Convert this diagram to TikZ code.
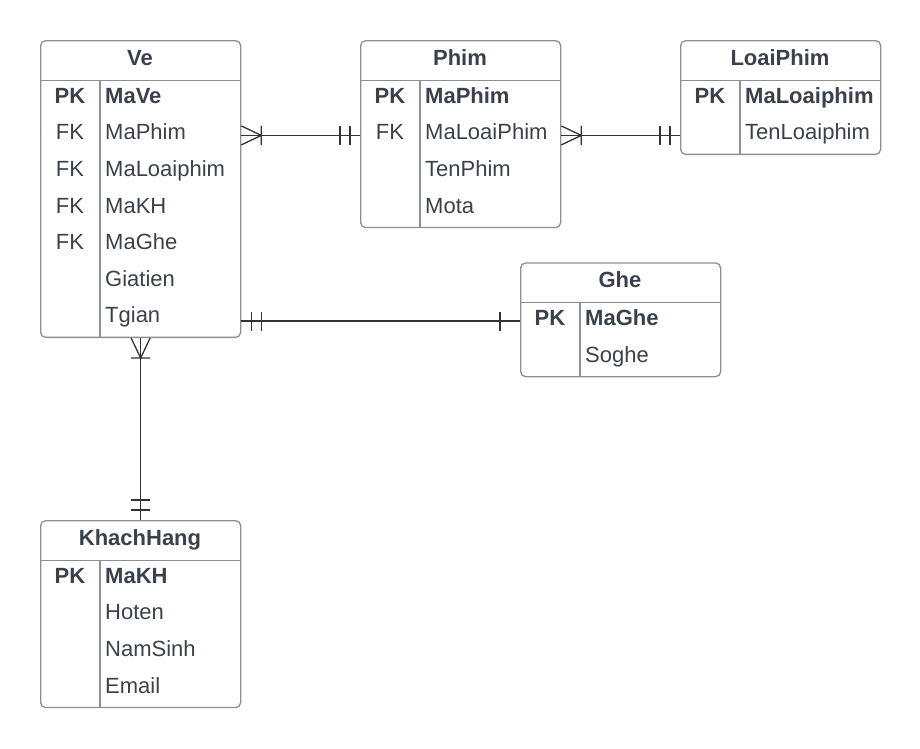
\documentclass[tikz,border=0pt]{standalone}
\usepackage{fontspec}
\setmainfont{Liberation Sans}
\begin{document}
\begin{tikzpicture}[x=1pt, y=-1pt, font=\fontsize{22}{26}\selectfont,
    tbl/.style={draw=edgegray, line width=1.3pt, rounded corners=5pt, anchor=north west, minimum width=200pt, inner sep=0pt},
    sep/.style={draw=edgegray, line width=1.3pt},
    hdr/.style={text=inkgray, inner sep=0pt, anchor=mid},
    key/.style={text=inkgray, inner sep=0pt, anchor=mid},
    fld/.style={text=inkgray, inner sep=0pt, anchor=mid west},
    rel/.style={draw=linkgray, line width=1.3pt},
    pics/crowmany/.style={code={\draw[rel] (0,-9.5) -- (20,0) -- (0,9.5) (20,-9.5) -- (20,9.5);}},
    pics/barbar/.style={code={\draw[rel] (10,-9.5) -- (10,9.5) (20,-9.5) -- (20,9.5);}},
    pics/barone/.style={code={\draw[rel] (20,-9.5) -- (20,9.5);}}]
  \definecolor{inkgray}{RGB}{58,65,74}
  \definecolor{edgegray}{RGB}{140,143,148}
  \definecolor{linkgray}{RGB}{51,51,51}
  \useasboundingbox (0,0) rectangle (920,748);

  % bang Ve
  \begin{scope}[shift={(40,40)}]
    \node[tbl, minimum height=296.7pt] (ve) at (0,0) {};
    \node[hdr] (ve-h) at (100,22.5) {\textbf{Ve}};
    \draw[sep] (0,40.5) -- (200,40.5) (60,40.5) -- (60,296.7);
    \foreach \k/\f [count=\i] in {\textbf{PK}/\textbf{MaVe}, FK/MaPhim, FK/MaLoaiphim, FK/MaKH, FK/MaGhe, /Giatien, /Tgian} {
      \node[key] (ve-k\i) at (30,24+36.6*\i) {\k};
      \node[fld] (ve-f\i) at (65,24+36.6*\i) {\f};
    }
  \end{scope}

  % bang Phim
  \begin{scope}[shift={(360,40)}]
    \node[tbl, minimum height=186.9pt] (phim) at (0,0) {};
    \node[hdr] (phim-h) at (100,22.5) {\textbf{Phim}};
    \draw[sep] (0,40.5) -- (200,40.5) (60,40.5) -- (60,186.9);
    \foreach \k/\f [count=\i] in {\textbf{PK}/\textbf{MaPhim}, FK/MaLoaiPhim, /TenPhim, /Mota} {
      \node[key] (phim-k\i) at (30,24+36.6*\i) {\k};
      \node[fld] (phim-f\i) at (65,24+36.6*\i) {\f};
    }
  \end{scope}

  % bang LoaiPhim
  \begin{scope}[shift={(680,40)}]
    \node[tbl, minimum height=113.7pt] (loai) at (0,0) {};
    \node[hdr] (loai-h) at (100,22.5) {\textbf{LoaiPhim}};
    \draw[sep] (0,40.5) -- (200,40.5) (60,40.5) -- (60,113.7);
    \foreach \k/\f [count=\i] in {\textbf{PK}/\textbf{MaLoaiphim}, /TenLoaiphim} {
      \node[key] (loai-k\i) at (30,24+36.6*\i) {\k};
      \node[fld] (loai-f\i) at (65,24+36.6*\i) {\f};
    }
  \end{scope}

  % bang Ghe
  \begin{scope}[shift={(520,262.3)}]
    \node[tbl, minimum height=113.7pt] (ghe) at (0,0) {};
    \node[hdr] (ghe-h) at (100,22.5) {\textbf{Ghe}};
    \draw[sep] (0,40.5) -- (200,40.5) (60,40.5) -- (60,113.7);
    \foreach \k/\f [count=\i] in {\textbf{PK}/\textbf{MaGhe}, /Soghe} {
      \node[key] (ghe-k\i) at (30,24+36.6*\i) {\k};
      \node[fld] (ghe-f\i) at (65,24+36.6*\i) {\f};
    }
  \end{scope}

  % bang KhachHang
  \begin{scope}[shift={(40,520)}]
    \node[tbl, minimum height=186.9pt] (kh) at (0,0) {};
    \node[hdr] (kh-h) at (100,22.5) {\textbf{KhachHang}};
    \draw[sep] (0,40.5) -- (200,40.5) (60,40.5) -- (60,186.9);
    \foreach \k/\f [count=\i] in {\textbf{PK}/\textbf{MaKH}, /Hoten, /NamSinh, /Email} {
      \node[key] (kh-k\i) at (30,24+36.6*\i) {\k};
      \node[fld] (kh-f\i) at (65,24+36.6*\i) {\f};
    }
  \end{scope}

  % lien ket Ve - Phim
  \draw[rel] ([yshift=1.8pt]ve.east |- ve-f2.mid west) -- ([yshift=1.8pt]phim.west |- ve-f2.mid west);
  \pic at ([yshift=1.8pt]ve.east |- ve-f2.mid west) {crowmany};
  \pic[rotate=180] at ([yshift=1.8pt]phim.west |- ve-f2.mid west) {barbar};

  % lien ket Phim - LoaiPhim
  \draw[rel] ([yshift=1.8pt]phim.east |- phim-f2.mid west) -- ([yshift=1.8pt]loai.west |- phim-f2.mid west);
  \pic at ([yshift=1.8pt]phim.east |- phim-f2.mid west) {crowmany};
  \pic[rotate=180] at ([yshift=1.8pt]loai.west |- phim-f2.mid west) {barbar};

  % lien ket Ve - Ghe
  \draw[rel] ([yshift=1.8pt]ve.east |- ghe-f1.mid west) -- ([yshift=1.8pt]ghe.west |- ghe-f1.mid west);
  \pic at ([yshift=1.8pt]ve.east |- ghe-f1.mid west) {barbar};
  \pic[rotate=180] at ([yshift=1.8pt]ghe.west |- ghe-f1.mid west) {barone};

  % lien ket Ve - KhachHang
  \draw[rel] (ve.south) -- (kh.north);
  \pic[rotate=-90] at (ve.south) {crowmany};
  \pic[rotate=90] at (kh.north) {barbar};
\end{tikzpicture}
\end{document}
